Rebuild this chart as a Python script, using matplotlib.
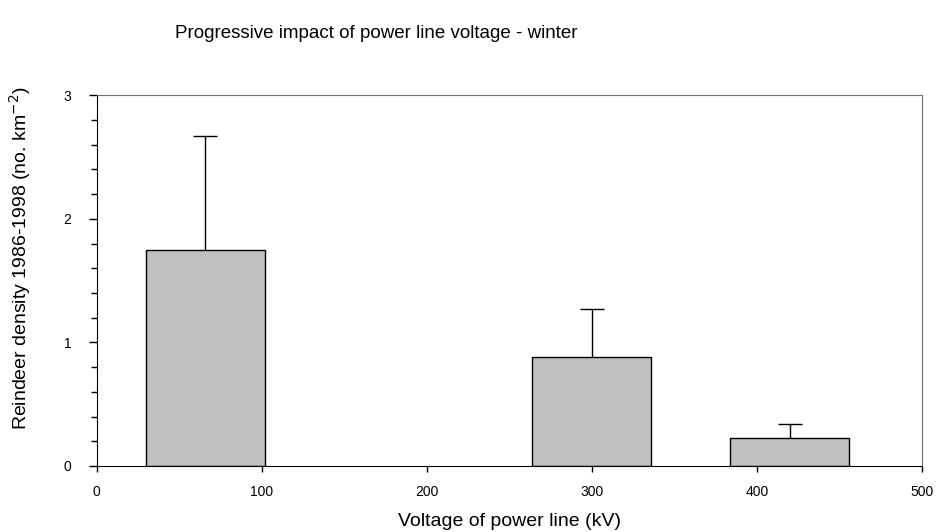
import matplotlib.pyplot as plt
from matplotlib.ticker import MultipleLocator

plt.rcParams['font.family'] = ['Liberation Sans', 'DejaVu Sans']

# voltage classes (kV) and winter reindeer density
voltage = [66, 300, 420]
density = [1.75, 0.88, 0.23]
err_up = [0.92, 0.39, 0.11]
bar_width = 72

fig = plt.figure(figsize=(9.39, 5.32), dpi=100)
ax = fig.add_axes([0.1028, 0.1241, 0.8791, 0.6968])

ax.bar(voltage, density, width=bar_width, color="#c0c0c0", edgecolor="black",
       linewidth=1.0, zorder=2)
eb = ax.errorbar(voltage, density, yerr=[[0] * len(err_up), err_up], fmt="none",
                 ecolor="black", elinewidth=1.0, capsize=8.5, capthick=1.0, zorder=3)
# only the upper caps
eb[1][0].set_visible(False)

ax.set_xlim(0, 500)
ax.set_ylim(0, 3)
ax.xaxis.set_major_locator(MultipleLocator(100))
ax.yaxis.set_major_locator(MultipleLocator(1))
ax.yaxis.set_minor_locator(MultipleLocator(0.2))
ax.tick_params(axis="x", which="major", direction="out", length=4, width=1,
               pad=10, labelsize=10)
ax.tick_params(axis="y", which="major", direction="out", length=6, width=1,
               pad=12, labelsize=10)
ax.tick_params(axis="y", which="minor", direction="out", length=4, width=1)

for s in ["top", "right"]:
    ax.spines[s].set_color("#707070")
for s in ["left", "bottom"]:
    ax.spines[s].set_color("black")

ax.set_xlabel("Voltage of power line (kV)", fontsize=14, labelpad=10)
fig.text(0.021, (532 - 430) / 532, "Reindeer density 1986-1998 (no. km$^{-2}$)",
         rotation=90, ha="center", va="bottom", fontsize=14)
fig.text(376 / 939, 1 - 33 / 532, "Progressive impact of power line voltage - winter",
         ha="center", va="center", fontsize=13.5)

fig.savefig("out.png", dpi=100)
